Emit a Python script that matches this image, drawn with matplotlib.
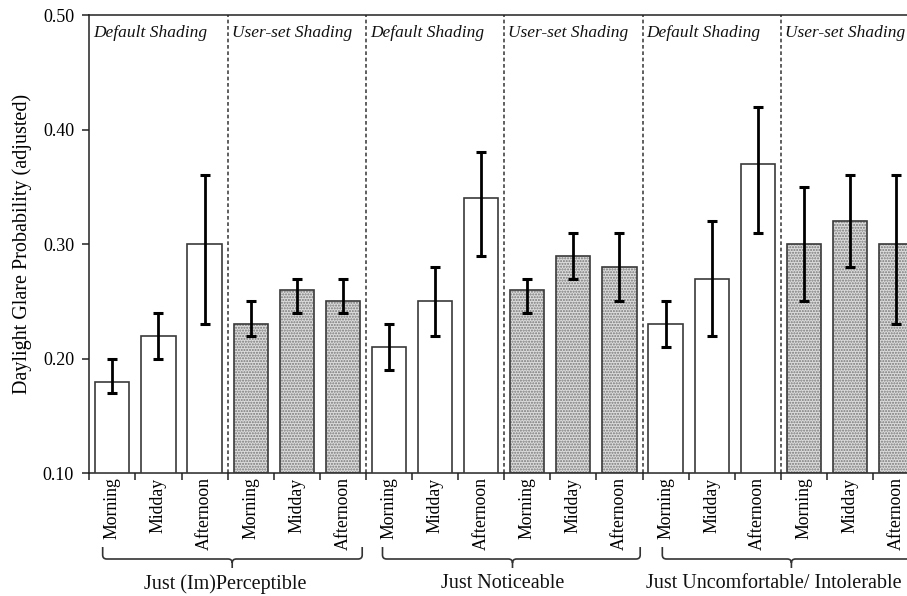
import matplotlib
matplotlib.use("Agg")
import matplotlib.pyplot as plt
from matplotlib.path import Path
from matplotlib.patches import PathPatch
import matplotlib.transforms as mtransforms
import numpy as np

plt.rcParams['font.family'] = ['Liberation Serif', 'DejaVu Serif']

# ---------------- data ----------------
times = ["Morning", "Midday", "Afternoon"]
shading = ["Default Shading", "User-set Shading"]
groups = ["Just (Im)Perceptible", "Just Noticeable", "Just Uncomfortable/ Intolerable"]

# values per group: default (M, Mid, Aft), user-set (M, Mid, Aft)
means = [0.18, 0.22, 0.30, 0.23, 0.26, 0.25,
         0.21, 0.25, 0.34, 0.26, 0.29, 0.28,
         0.23, 0.27, 0.37, 0.30, 0.32, 0.30]
upper = [0.20, 0.24, 0.36, 0.25, 0.27, 0.27,
         0.23, 0.28, 0.38, 0.27, 0.31, 0.31,
         0.25, 0.32, 0.42, 0.35, 0.36, 0.36]
lower = [0.17, 0.20, 0.23, 0.22, 0.24, 0.24,
         0.19, 0.22, 0.29, 0.24, 0.27, 0.25,
         0.21, 0.22, 0.31, 0.25, 0.28, 0.23]
is_user = [0, 0, 0, 1, 1, 1] * 3
yticks = [0.10, 0.20, 0.30, 0.40, 0.50]
ylabel = "Daylight Glare Probability (adjusted)"

# ---------------- figure ----------------
W, H = 907, 596
fig = plt.figure(figsize=(W / 100, H / 100), dpi=100)
ax_left, ax_right = 89.3, 919.1
ax_top, ax_bot = 15.0, 473.3
ax = fig.add_axes([ax_left / W, (H - ax_bot) / H,
                   (ax_right - ax_left) / W, (ax_bot - ax_top) / H])

n = len(means)
x = np.arange(n)
base = 0.10
heights = np.array(means) - base
bw = 0.74
edge = '#3a3a3a'

for i in range(n):
    if is_user[i]:
        ax.bar(x[i], heights[i], bottom=base, width=bw, color='#dcdcdc',
               hatch='......', edgecolor='#777777', linewidth=0, zorder=2)
        ax.bar(x[i], heights[i], bottom=base, width=bw, fill=False,
               edgecolor=edge, linewidth=1.2, zorder=3)
    else:
        ax.bar(x[i], heights[i], bottom=base, width=bw, color='white',
               edgecolor=edge, linewidth=1.2, zorder=3)

means_a = np.array(means)
yerr = np.vstack([means_a - np.array(lower), np.array(upper) - means_a])
ax.errorbar(x, means_a, yerr=yerr, fmt='none', ecolor='black',
            elinewidth=2.0, capsize=3.3, capthick=2.2, zorder=4)

ax.set_xlim(-0.5, n - 0.5)
ax.set_ylim(0.10, 0.50)

# separators
for b in [2.5, 5.5, 8.5, 11.5, 14.5]:
    ax.axvline(b, color='#444444', linestyle=(0, (2.2, 1.6)), linewidth=1.2, zorder=1)

trans = mtransforms.blended_transform_factory(ax.transData, ax.transAxes)

# section labels
for g in range(3):
    for s in range(2):
        start = g * 6 + s * 3 - 0.5
        ax.text(start + 0.09, 0.952, shading[s], transform=trans,
                fontsize=12.5, style='italic', ha='left', va='baseline', color='#111111')

# spines
for sp in ['top', 'left', 'bottom', 'right']:
    ax.spines[sp].set_linewidth(1.1)
    ax.spines[sp].set_color('#222222')

ax.set_yticks(yticks)
ax.set_yticklabels([f"{v:.2f}" for v in yticks], fontsize=13)
ax.tick_params(axis='y', direction='out', length=5, width=1.1, pad=6, color='#222222')

ax.set_xticks(x)
ax.set_xticklabels(times * 6, rotation=90, fontsize=12.8, va='top')
ax.tick_params(axis='x', which='major', length=0, pad=3)
ax.set_xticks(np.arange(-0.5, n, 1.0), minor=True)
ax.tick_params(axis='x', which='minor', direction='out', length=5, width=1.1, color='#222222')

ax.set_ylabel(ylabel, fontsize=14.5, labelpad=8)

# brackets
axh = ax_bot - ax_top
def yfrac(py):
    return (ax_bot - py) / axh

y_top, y_mid, y_bot = yfrac(547), yfrac(559), yfrac(568)
rx, ry = 0.09, 4.0 / axh
bracket_spans = [(-0.21, 2.60, 5.42), (5.86, 8.68, 11.45), (11.93, 14.73, 17.6)]
label_x = [2.45, 8.47, 14.34]
for (xl, xc, xr), lx, name in zip(bracket_spans, label_x, groups):
    verts = [(xl, y_top), (xl, y_mid + ry), (xl, y_mid), (xl + rx, y_mid),
             (xc - rx, y_mid), (xc, y_mid), (xc, y_mid - ry), (xc, y_bot),
             (xc, y_mid - ry), (xc, y_mid), (xc + rx, y_mid),
             (xr - rx, y_mid), (xr, y_mid), (xr, y_mid + ry), (xr, y_top)]
    codes = [Path.MOVETO, Path.LINETO, Path.CURVE3, Path.CURVE3,
             Path.LINETO, Path.CURVE3, Path.CURVE3, Path.LINETO,
             Path.MOVETO, Path.CURVE3, Path.CURVE3,
             Path.LINETO, Path.CURVE3, Path.CURVE3, Path.LINETO]
    pp = PathPatch(Path(verts, codes), transform=trans, fill=False,
                   edgecolor='#333333', linewidth=1.2, clip_on=False)
    ax.add_patch(pp)
    ax.text(lx, yfrac(584), name, transform=trans, ha='center', va='center',
            fontsize=14.5, color='#111111')

fig.savefig("out.png", dpi=100)
